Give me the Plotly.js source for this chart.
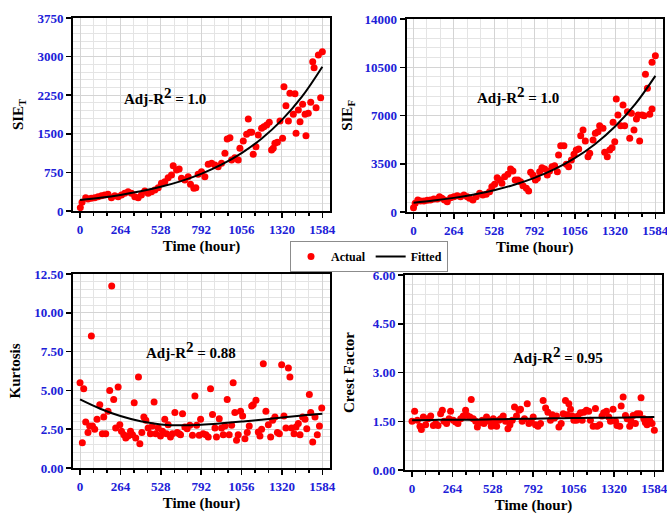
<!DOCTYPE html>
<html>
<head>
<meta charset="utf-8">
<script src="https://cdn.plot.ly/plotly-3.0.1.min.js"></script>
<style>html,body{margin:0;padding:0;background:#fff;}#chart{width:667px;height:517px;}</style>
</head>
<body>
<div id="chart"></div>
<script>
// ---- data ----
const xTicks = [0, 264, 528, 792, 1056, 1320, 1584];

const sieTX = [2,13,37,52,74,96,118,140,161,183,205,227,249,271,292,314,336,358,380,401,423,445,467,489,511,532,554,576,598,609,631,648,663,685,707,722,744,757,772,794,816,838,860,882,903,925,947,962,980,991,1012,1034,1045,1067,1089,1100,1111,1122,1132,1150,1165,1187,1202,1220,1237,1252,1263,1274,1290,1307,1324,1333,1346,1362,1372,1394,1405,1412,1427,1438,1455,1471,1477,1492,1508,1521,1530,1543,1558,1573,1584];
const sieTY = [65,168,259,233,246,259,279,298,311,324,259,298,279,311,343,376,343,279,259,311,389,343,376,408,453,538,570,648,700,881,797,816,635,602,667,518,440,453,712,764,667,907,926,894,861,926,1121,1399,1425,991,1036,991,1218,1360,1490,1788,1529,1529,1101,1250,1477,1606,1639,1671,1723,1185,1218,1315,1334,1749,1412,2416,2047,1749,2286,1878,2280,1509,1963,1736,2073,1878,1464,1898,2112,2902,2785,2008,3031,2202,3096];

const sieFX = [0,11,28,46,68,90,111,133,155,170,186,203,221,243,264,286,308,330,352,367,389,411,433,454,476,498,513,531,548,564,579,597,618,636,651,666,684,701,717,739,754,767,782,798,811,826,841,859,876,891,907,924,942,950,964,985,1001,1016,1034,1051,1066,1082,1095,1110,1125,1143,1154,1176,1191,1208,1219,1241,1252,1269,1285,1300,1307,1318,1328,1339,1357,1372,1383,1401,1416,1427,1444,1460,1471,1481,1497,1510,1519,1532,1547,1562,1562,1584];
const sieFY = [314,629,870,798,798,846,870,943,943,1112,991,870,750,1040,1112,1185,1112,1233,1112,991,870,1112,1354,1233,1282,1475,1838,2007,2491,2321,2079,2563,2732,3119,2974,2321,2321,2200,1910,1717,1523,2877,2684,2321,2442,2926,3216,3119,2684,2974,3288,3361,2926,4135,4812,4812,3458,3288,3772,4183,4497,4570,5537,5948,5150,4014,4256,5223,5706,5827,6263,6069,4328,4014,4497,4667,6504,5102,8197,7036,6263,7762,6263,7278,5344,7157,5948,6746,7036,5150,7036,6988,9986,8971,7085,7472,10857,11340];

const kurtX = [0,15,24,37,52,63,74,81,96,111,129,146,155,168,183,194,207,220,233,249,260,271,286,299,314,330,343,354,364,382,391,404,417,430,445,460,473,484,495,511,526,539,554,565,576,591,604,620,635,648,657,670,685,700,718,735,751,762,779,788,805,823,838,853,866,882,892,910,925,936,947,962,975,991,1001,1012,1023,1034,1049,1063,1078,1093,1106,1122,1132,1150,1165,1176,1187,1198,1215,1231,1246,1259,1274,1290,1303,1318,1333,1346,1362,1372,1383,1399,1412,1427,1438,1455,1471,1482,1499,1508,1521,1536,1551,1565,1580];
const kurtY = [5.50,1.63,5.11,2.96,2.28,2.71,8.51,2.71,2.49,3.14,4.08,2.21,3.29,2.21,3.65,5.00,11.73,4.42,2.58,5.22,2.79,2.36,2.15,1.93,2.06,2.36,2.15,4.21,1.93,5.86,1.57,2.28,3.29,3.07,2.58,2.21,2.71,4.25,2.21,2.58,2.06,2.36,3.14,2.21,2.79,2.00,2.21,3.57,2.28,2.21,2.15,3.50,2.64,2.53,2.75,2.11,4.64,2.75,2.11,3.14,2.21,2.15,2.00,5.11,3.44,2.58,2.00,3.18,2.58,2.15,2.71,4.42,2.15,2.75,5.50,3.57,1.78,2.15,3.65,3.35,1.89,2.28,2.71,4.00,4.08,4.36,2.32,2.06,2.49,6.72,3.65,2.79,2.00,3.07,3.29,2.28,2.21,6.66,3.35,2.58,6.44,5.86,2.58,2.21,2.64,2.86,2.15,3.29,3.14,2.53,4.73,3.57,1.68,3.29,2.15,2.71,3.87];

const crestX = [0,17,35,52,61,74,89,104,122,139,155,170,187,198,209,226,242,252,270,285,300,318,335,350,361,379,387,400,416,427,444,459,470,487,503,518,531,540,553,568,579,596,611,627,640,655,670,683,699,709,720,735,753,764,779,792,807,823,840,857,873,888,905,916,931,944,960,975,988,1003,1014,1025,1036,1047,1058,1075,1084,1101,1112,1123,1140,1155,1166,1184,1199,1210,1227,1242,1253,1271,1286,1297,1314,1330,1340,1358,1367,1380,1395,1406,1423,1432,1445,1460,1471,1488,1497,1515,1525,1536,1554,1569,1584];
const crestY = [1.50,1.81,1.53,1.35,1.25,1.63,1.39,1.58,1.66,1.37,1.43,1.37,1.73,1.84,1.50,1.43,1.58,1.81,1.53,1.48,1.43,1.58,1.66,1.84,1.68,1.63,2.17,1.58,1.50,1.32,1.46,1.53,1.43,1.63,1.50,1.35,1.58,1.50,1.35,1.53,1.58,1.66,1.50,1.27,1.39,1.53,1.94,1.66,1.84,1.87,1.50,1.58,2.04,1.43,1.50,1.63,1.39,1.35,1.43,2.14,1.91,1.78,1.53,1.70,1.60,1.66,1.32,1.43,1.73,2.14,1.70,2.04,1.87,1.66,1.53,1.53,1.66,1.76,1.53,1.78,1.84,1.81,1.53,1.35,1.89,1.35,1.39,1.66,1.76,1.81,1.63,1.50,1.87,1.50,1.37,1.35,1.97,2.25,1.68,1.58,1.35,1.50,1.68,1.43,1.73,1.73,2.22,1.58,1.46,1.39,1.53,1.43,1.22];

const fitX  = [0,132,264,396,528,660,792,924,1056,1188,1320,1452,1584];
const fitTL = [214,257,312,382,470,581,722,900,1125,1410,1771,2227,2804];
const fitTR = [677,830,1024,1270,1582,1976,2475,3107,3906,4919,6200,7820,9874];
const fitBL = [4.42,3.82,3.35,3.01,2.81,2.75,2.79,2.88,2.99,3.11,3.26,3.39,3.50];
const fitBR = [1.53,1.54,1.55,1.55,1.56,1.57,1.58,1.59,1.60,1.61,1.61,1.62,1.63];

const r2Values = ['1.0', '1.0', '0.88', '0.95'];
const yTitles = ['SIE<sub>T</sub>', 'SIE<sub>F</sub>', 'Kurtosis', 'Crest Factor'];

// ---- styling ----
const SERIF = 'Liberation Serif, Times New Roman, serif';
const BLUE = '#2020d8';
const W = 667, H = 517;
function dom(a, b, tot) { return [a / tot, b / tot]; }
function ydom(top, bot) { return [1 - bot / H, 1 - top / H]; }

function xAxis(domain, anchor) {
  return {
    domain: domain, anchor: anchor, range: [-46, 1634],
    tickmode: 'array', tickvals: xTicks, ticktext: xTicks.map(String),
    ticks: 'outside', ticklen: 5, tickwidth: 1.5, tickcolor: '#000',
    showline: true, linecolor: '#000', linewidth: 2, mirror: true,
    showgrid: true, gridcolor: '#d4d4d4', gridwidth: 1, zeroline: false,
    minor: {dtick: 88, tick0: 0, showgrid: true, gridcolor: '#e4e4e4', ticks: 'outside', ticklen: 3, tickcolor: '#000'},
    tickfont: {family: SERIF, size: 13, color: BLUE, weight: 'bold'},
    ticklabeloverflow: 'allow',
    title: {text: 'Time (hour)', font: {family: SERIF, size: 15, color: '#000', weight: 'bold'}, standoff: 5},
    automargin: false
  };
}
function yAxis(domain, anchor, range, dtick, mdtick, fmt, title, standoff) {
  return {
    domain: domain, anchor: anchor, range: range, dtick: dtick, tick0: 0, tickformat: fmt,
    ticks: 'outside', ticklen: 5, tickwidth: 1.5, tickcolor: '#000',
    showline: true, linecolor: '#000', linewidth: 2, mirror: true,
    showgrid: true, gridcolor: '#d4d4d4', gridwidth: 1, zeroline: false,
    minor: {dtick: mdtick, tick0: 0, showgrid: true, gridcolor: '#e4e4e4', ticks: ''},
    tickfont: {family: SERIF, size: 13, color: BLUE, weight: 'bold'},
    ticklabeloverflow: 'allow',
    title: {text: title, font: {family: SERIF, size: 15, color: '#000', weight: 'bold'}, standoff: standoff},
    automargin: false
  };
}

const dot = {color: '#ff0000', size: 7};
const fitLine = {color: '#000', width: 2, shape: 'spline'};
const traces = [
  {x: sieTX, y: sieTY, xaxis: 'x', yaxis: 'y', mode: 'markers', marker: dot, name: 'Actual', showlegend: true},
  {x: fitX, y: fitTL, xaxis: 'x', yaxis: 'y', mode: 'lines', line: fitLine, name: 'Fitted', showlegend: true},
  {x: sieFX, y: sieFY, xaxis: 'x2', yaxis: 'y2', mode: 'markers', marker: dot, showlegend: false},
  {x: fitX, y: fitTR, xaxis: 'x2', yaxis: 'y2', mode: 'lines', line: fitLine, showlegend: false},
  {x: kurtX, y: kurtY, xaxis: 'x3', yaxis: 'y3', mode: 'markers', marker: dot, showlegend: false},
  {x: fitX, y: fitBL, xaxis: 'x3', yaxis: 'y3', mode: 'lines', line: fitLine, showlegend: false},
  {x: crestX, y: crestY, xaxis: 'x4', yaxis: 'y4', mode: 'markers', marker: dot, showlegend: false},
  {x: fitX, y: fitBR, xaxis: 'x4', yaxis: 'y4', mode: 'lines', line: fitLine, showlegend: false}
];

const annFont = {family: SERIF, size: 15, color: '#000', weight: 'bold'};
const annPos = [[556, 2234, 'x', 'y'], [681, 8487, 'x2', 'y2'], [726, 7.6, 'x3', 'y3'], [955, 3.54, 'x4', 'y4']];
const annotations = annPos.map((p, i) => ({
  x: p[0], y: p[1], xref: p[2], yref: p[3],
  text: 'Adj-R<sup><span style="font-size:15px">2</span></sup> = ' + r2Values[i],
  showarrow: false, font: annFont
}));

const layout = {
  width: W, height: H,
  margin: {l: 0, r: 0, t: 0, b: 0},
  paper_bgcolor: '#fff', plot_bgcolor: '#fff',
  showlegend: true,
  legend: {
    orientation: 'h', x: 290 / W, y: 1 - 241 / H, xanchor: 'left', yanchor: 'top',
    bordercolor: '#8c8c8c', borderwidth: 1, bgcolor: '#fff',
    font: {family: SERIF, size: 12, color: '#000', weight: 'bold'},
    itemwidth: 30
  },
  xaxis: xAxis(dom(73, 330, W), 'y'),
  yaxis: yAxis(ydom(18, 211), 'x', [0, 3750], 750, 150, 'd', yTitles[0], 10),
  xaxis2: xAxis(dom(406.5, 663, W), 'y2'),
  yaxis2: yAxis(ydom(19, 212), 'x2', [0, 14000], 3500, 700, 'd', yTitles[1], 8),
  xaxis3: xAxis(dom(73, 330, W), 'y3'),
  yaxis3: yAxis(ydom(274, 468), 'x3', [0, 12.5], 2.5, 0.5, '.2f', yTitles[2], 10),
  xaxis4: xAxis(dom(405, 662, W), 'y4'),
  yaxis4: yAxis(ydom(275, 470), 'x4', [0, 6], 1.5, 0.3, '.2f', yTitles[3], 14),
  annotations: annotations
};

Plotly.newPlot('chart', traces, layout, {displayModeBar: false, staticPlot: true});
</script>
</body>
</html>
